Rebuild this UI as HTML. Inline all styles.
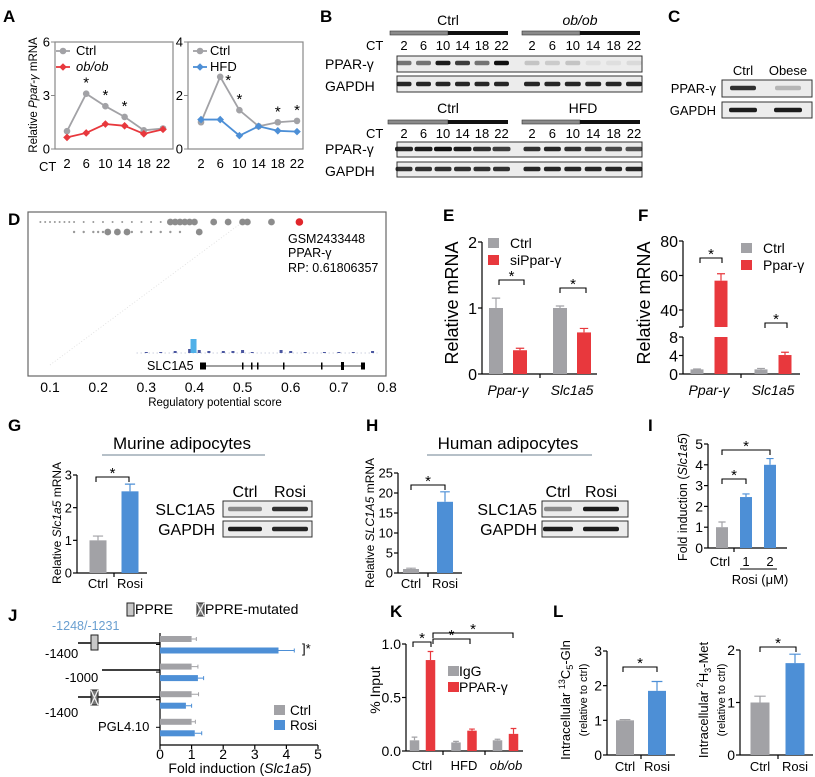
<!DOCTYPE html>
<html><head><meta charset="utf-8"><style>
html,body{margin:0;padding:0;background:#fff}
svg{display:block;font-family:"Liberation Sans",Arial,sans-serif}
.n{font-family:"Liberation Sans Narrow","Liberation Sans",sans-serif}
.L{font-weight:bold;font-size:17px}
</style></head><body>
<svg id="fig" width="815" height="777" viewBox="0 0 815 777" xmlns="http://www.w3.org/2000/svg">
<g>
<text class="L" x="3" y="22">A</text><text class="L" x="320" y="22">B</text><text class="L" x="668" y="22">C</text>
<text class="L" x="8" y="225">D</text><text class="L" x="443" y="221">E</text><text class="L" x="638" y="221">F</text>
<text class="L" x="8" y="431">G</text><text class="L" x="366" y="431">H</text><text class="L" x="648" y="431">I</text>
<text class="L" x="8" y="621">J</text><text class="L" x="390" y="617">K</text><text class="L" x="553" y="617">L</text>
</g>
<g font-size="13">
<text transform="translate(37,95) rotate(-90)" text-anchor="middle" font-size="11.5">Relative <tspan font-style="italic">Ppar-γ</tspan> mRNA</text>
<text x="39" y="171" font-size="13">CT</text>
<text x="76" y="55">Ctrl</text><text x="76" y="71" font-style="italic">ob/ob</text>
<text x="210" y="55">Ctrl</text><text x="210" y="71">HFD</text>
</g>
<g font-size="13">
<text x="448" y="25" text-anchor="middle" font-size="14">Ctrl</text>
<text x="580" y="25" text-anchor="middle" font-size="14" font-style="italic">ob/ob</text>
<text x="448" y="113" text-anchor="middle" font-size="14">Ctrl</text>
<text x="583" y="113" text-anchor="middle" font-size="14">HFD</text>
<text x="366" y="50">CT</text><text x="366" y="138">CT</text>
<text x="325" y="69" font-size="14">PPAR-γ</text><text x="325" y="91" font-size="14">GAPDH</text>
<text x="325" y="154" font-size="14">PPAR-γ</text><text x="325" y="176" font-size="14">GAPDH</text>
</g>
<g font-size="13">
<text x="743" y="75" text-anchor="middle">Ctrl</text><text x="788" y="75" text-anchor="middle">Obese</text>
<text x="716" y="93" text-anchor="end">PPAR-γ</text><text x="716" y="115" text-anchor="end">GAPDH</text>
</g>
<g font-size="12.5" class="n">
<text x="288" y="243">GSM2433448</text><text x="288" y="257">PPAR-γ</text><text x="288" y="272">RP: 0.61806357</text>
<text x="147" y="370">SLC1A5</text>
<text x="215" y="406" text-anchor="middle" font-size="11.5">Regulatory potential score</text>
</g>
<g>
<text transform="translate(458,303) rotate(-90)" text-anchor="middle" font-size="18">Relative mRNA</text>
<text transform="translate(650,303) rotate(-90)" text-anchor="middle" font-size="18">Relative mRNA</text>
<text x="510" y="248" font-size="14">Ctrl</text><text x="510" y="265" font-size="14">siPpar-γ</text>
<text x="763" y="253" font-size="14">Ctrl</text><text x="763" y="270" font-size="14">Ppar-γ</text>
<g font-style="italic" font-size="14" text-anchor="middle"><text x="508" y="395">Ppar-γ</text><text x="572" y="395">Slc1a5</text><text x="709" y="395">Ppar-γ</text><text x="773" y="395">Slc1a5</text></g>
</g>
<g class="n">
<text x="182" y="449" text-anchor="middle" font-size="17">Murine adipocytes</text>
<line x1="102" y1="455" x2="265" y2="455" stroke="#8a9aa8" stroke-width="1.3"/>
<text x="508" y="449" text-anchor="middle" font-size="17">Human  adipocytes</text>
<line x1="427" y1="455" x2="592" y2="455" stroke="#8a9aa8" stroke-width="1.3"/>
<text transform="translate(61,523) rotate(-90)" text-anchor="middle" font-size="12">Relative <tspan font-style="italic">Slc1a5</tspan> mRNA</text>
<text transform="translate(374,523) rotate(-90)" text-anchor="middle" font-size="12">Relative <tspan font-style="italic">SLC1A5</tspan> mRNA</text>
<text transform="translate(687,497) rotate(-90)" text-anchor="middle" font-size="12.5">Fold induction (<tspan font-style="italic">Slc1a5</tspan>)</text>
<g font-size="13" text-anchor="middle"><text x="98" y="588">Ctrl</text><text x="130" y="588">Rosi</text><text x="411" y="588">Ctrl</text><text x="445" y="588">Rosi</text>
<text x="720" y="566">Ctrl</text><text x="746" y="566">1</text><text x="770" y="566">2</text><text x="760" y="584">Rosi (μM)</text></g>
<line x1="740" y1="569" x2="777" y2="569" stroke="#000" stroke-width="1"/>
<g font-size="16"><text x="245" y="497" text-anchor="middle">Ctrl</text><text x="290" y="497" text-anchor="middle">Rosi</text>
<text x="215" y="515" text-anchor="end">SLC1A5</text><text x="215" y="535" text-anchor="end">GAPDH</text>
<text x="558" y="497" text-anchor="middle">Ctrl</text><text x="601" y="497" text-anchor="middle">Rosi</text>
<text x="537" y="515" text-anchor="end">SLC1A5</text><text x="537" y="535" text-anchor="end">GAPDH</text></g>
</g>
<g class="n">
<text x="135" y="614" font-size="14">PPRE</text><text x="205" y="614" font-size="14">PPRE-mutated</text>
<text x="52" y="630" font-size="12.5" fill="#6a9fd0">-1248/-1231</text>
<g font-size="13"><text x="45" y="658">-1400</text><text x="65" y="682">-1000</text><text x="45" y="717">-1400</text><text x="98" y="731">PGL4.10</text></g>
<text x="302" y="653" font-size="13">]*</text>
<text x="290" y="715" font-size="13.5">Ctrl</text><text x="290" y="730" font-size="13.5">Rosi</text>
<text x="240" y="773" text-anchor="middle" font-size="14">Fold induction (<tspan font-style="italic">Slc1a5</tspan>)</text>
<text transform="translate(380,690) rotate(-90)" text-anchor="middle" font-size="14">% Input</text>
<text x="459" y="676" font-size="14">IgG</text><text x="459" y="692" font-size="14">PPAR-γ</text>
<g font-size="13" text-anchor="middle"><text x="422" y="770">Ctrl</text><text x="464" y="770">HFD</text><text x="506" y="770" font-style="italic">ob/ob</text>
<text x="625" y="771">Ctrl</text><text x="657" y="771">Rosi</text><text x="760" y="771">Ctrl</text><text x="795" y="771">Rosi</text></g>
<text transform="translate(570,700) rotate(-90)" text-anchor="middle" font-size="13">Intracellular <tspan font-size="9" dy="-5">13</tspan><tspan dy="5">C</tspan><tspan font-size="9" dy="3">5</tspan><tspan dy="-3">-Gln</tspan></text>
<text transform="translate(587,700) rotate(-90)" text-anchor="middle" font-size="11">(relative to ctrl)</text>
<text transform="translate(708,700) rotate(-90)" text-anchor="middle" font-size="13">Intracellular <tspan font-size="9" dy="-5">2</tspan><tspan dy="5">H</tspan><tspan font-size="9" dy="3">3</tspan><tspan dy="-3">-Met</tspan></text>
<text transform="translate(725,700) rotate(-90)" text-anchor="middle" font-size="11">(relative to ctrl)</text>
</g>
<g id="marks"></g>
</svg>
<script>
const aCT=['2','6','10','14','18','22'];
const aCtrl1=[1.0,3.1,2.4,1.8,1.05,1.15];
const aOb=[0.65,0.9,1.4,1.3,0.85,1.1];
const aCtrl2=[1.0,2.7,1.45,0.85,1.0,1.05];
const aHFD=[1.1,1.1,0.5,0.85,0.68,0.65];
const aTicks1=[0,3,6];
const aTicks2=[0,2,4];
const bCT=['2','6','10','14','18','22'];
const bCtrlPpar=[0.55,0.55,0.95,0.8,0.55,1.0];
const bObPpar=[0.18,0.15,0.18,0.06,0.06,0.08];
const bCtrl2Ppar=[0.9,0.95,1.0,0.95,0.85,0.8];
const bHfdPpar=[0.85,0.9,0.85,0.8,0.75,0.7];
const dRow1Small=[0.08,0.09,0.10,0.11,0.12,0.13,0.14,0.15,0.17,0.19,0.21,0.23,0.25,0.27,0.29,0.31,0.33];
const dRow1Big=[0.35,0.36,0.37,0.38,0.39,0.40,0.44,0.47,0.50,0.51,0.56];
const dRow2Small=[0.15,0.17,0.19,0.2,0.21,0.27,0.29,0.31,0.33,0.35,0.37];
const dRow2Big=[0.22,0.24,0.26,0.41];
const dRed=[0.618];
const dTicks=[0.1,0.2,0.3,0.4,0.5,0.6,0.7,0.8];
const dPeaks=[0.30,0.33,0.36,0.39,0.395,0.41,0.43,0.46,0.48,0.5,0.52,0.58,0.6,0.63,0.67,0.7,0.73,0.77];
const dPeakH=[1,1,2,4,14,3,2,2,2,3,1,3,2,1,1,1,1,2];
const eCtrl=[1.0,1.0], eCtrlErr=[0.15,0.03];
const eSi=[0.36,0.63], eSiErr=[0.03,0.06];
const eTicks=[0,1,2];
const fCtrl=[1,1], fCtrlErr=[0.1,0.2];
const fP=[57,4.1], fPErr=[4,0.6];
const fTicksLow=[0,4,8], fTicksHigh=[40,60,80];
const gVals=[1.0,2.5], gErr=[0.13,0.22], gTicks=[0,1,2,3];
const hVals=[1.0,17.8], hErr=[0.2,2.5], hTicks=[0,5,10,15,20,25];
const iVals=[1.0,2.45,4.0], iErr=[0.25,0.15,0.3], iTicks=[0,1,2,3,4,5];
const jCtrl=[1,1,1,1], jCtrlErr=[0.15,0.2,0.22,0.12];
const jRosi=[3.75,1.2,0.82,1.1], jRosiErr=[0.5,0.18,0.18,0.22];
const jTicks=[0,1,2,3,4,5];
const kIgG=[0.1,0.08,0.1], kIgGErr=[0.03,0.01,0.01];
const kP=[0.85,0.19,0.16], kPErr=[0.08,0.015,0.05];
const kTicks=[0,0.5,1.0], kTickLabels=['0.0','0.5','1.0'];
const l1=[1.0,1.85], l1Err=[0.02,0.27], l1Ticks=[0,1,2,3];
const l2=[1.0,1.75], l2Err=[0.12,0.17], l2Ticks=[0,1,2];

const GRAY='#a2a2a6', RED='#e8383d', BLUE='#4d8fd6';
const NS='http://www.w3.org/2000/svg';
const root=document.getElementById('marks');
function mk(tag,a,p){const e=document.createElementNS(NS,tag);for(const k in a)e.setAttribute(k,a[k]);(p||root).appendChild(e);return e;}
function lin(d0,d1,r0,r1){return v=>r0+(v-d0)*(r1-r0)/(d1-d0);}
function txt(x,y,s,a,p){const e=mk('text',Object.assign({x:x,y:y},a||{}),p);e.textContent=s;return e;}

function yAxis(x,sc,ticks,labels,name,fs){
  const g=mk('g',{});
  
  
  const ln=mk('line',{x1:x,x2:x,y1:sc(ticks[0]),y2:sc(ticks[ticks.length-1]),stroke:'#000','stroke-width':1.2},g);
  
  
  ticks.forEach((t,i)=>{
    const tk=mk('line',{x1:x-4,x2:x,y1:sc(t),y2:sc(t),stroke:'#000','stroke-width':1.2},g);
    
    
    const tl=txt(x-5,sc(t)+fs*0.36,labels?labels[i]:String(t),{'text-anchor':'end','font-size':fs},g);
    
    
  });
  return g;
}
function xAxis(x0,x1,y,ticks,name){
  const ln=mk('line',{x1:x0,x2:x1,y1:y,y2:y,stroke:'#000','stroke-width':1.2});
  
  
  ticks.forEach(t=>{
    const tk=mk('line',{x1:t,x2:t,y1:y,y2:y+4,stroke:'#000','stroke-width':1.2});
    
    
  });
}
function vbar(cx,w,v,err,sc,color,name){
  const r=mk('rect',{x:cx-w/2,y:sc(v),width:w,height:sc(0)-sc(v),fill:color});
  
  
  const e=mk('path',{d:`M${cx} ${sc(v)}V${sc(v+err)}M${cx-w*0.3} ${sc(v+err)}H${cx+w*0.3}`,stroke:color,'stroke-width':1.2,fill:'none'});
  
  
}
function bracket(x1,x2,y,name){
  const p=mk('path',{d:`M${x1} ${y+5}V${y}H${x2}V${y+5}`,stroke:'#000','stroke-width':1.1,fill:'none'});
  
  
  const s=txt((x1+x2)/2,y+1,'*',{'text-anchor':'middle','font-size':15});
  
  
}
function legendSq(x,y,color,name){
  const r=mk('rect',{x:x,y:y-5,width:11,height:10,fill:color});
  
  
}

function panelA(bx0,bx1,px0,ymax,ticks,c,o,oc,oname,stars){
  const sc=lin(0,ymax,149,42);
  const f=mk('rect',{x:bx0,y:42,width:bx1-bx0,height:107,fill:'none',stroke:'#888','stroke-width':1.2});
  
  
  ticks.forEach(t=>{
    const tk=mk('line',{x1:bx0-4,x2:bx0,y1:sc(t),y2:sc(t),stroke:'#888'});
    
    
    const tl=txt(bx0-5,sc(t)+4.5,String(t),{'text-anchor':'end','font-size':13});
    
    
  });
  const xs=aCT.map((_,i)=>px0+i*19.2);
  xs.forEach((x,i)=>{
    const tl=txt(x,168,aCT[i],{'text-anchor':'middle','font-size':13});
    
    
  });
  [[c,GRAY,'ctrl'],[o,oc,oname]].forEach(([vals,col,nm])=>{
    const pl=mk('polyline',{points:vals.map((v,i)=>xs[i]+','+sc(v)).join(' '),fill:'none',stroke:col,'stroke-width':1.8});
    
    
    vals.forEach((v,i)=>{
      let m;
      if(nm==='ctrl') m=mk('circle',{cx:xs[i],cy:sc(v),r:3.3,fill:col});
      else m=mk('path',{d:`M${xs[i]} ${sc(v)-3.8}l3.8 3.8l-3.8 3.8l-3.8 -3.8z`,fill:col});
      
      
    });
  });
  stars.forEach(i=>{
    const special=(ymax===4&&i===1);
    const s=txt(xs[i]+(special?8:0),sc(Math.max(c[i],o[i]))+(special?8:-6),'*',{'text-anchor':'middle','font-size':15});
    
    
  });
}
panelA(55,173,67,6,aTicks1,aCtrl1,aOb,RED,'obob',[1,2,3]);
panelA(188,303,201,4,aTicks2,aCtrl2,aHFD,BLUE,'hfd',[1,2,4,5]);
[[63,51,'c',GRAY],[63,67,'d',RED],[200,51,'c',GRAY],[200,67,'d',BLUE]].forEach(([x,y,t,col])=>{
  const l=mk('line',{x1:x-7,x2:x+7,y1:y,y2:y,stroke:col,'stroke-width':1.8});
  
  
  const m=t==='c'?mk('circle',{cx:x,cy:y,r:3.3,fill:col}):mk('path',{d:`M${x} ${y-3.8}l3.8 3.8l-3.8 3.8l-3.8 -3.8z`,fill:col});
  
  
});

function timeBar(x0,xm,x1,y){
  const g=mk('rect',{x:x0,y:y,width:xm-x0,height:4,fill:'#8a8a8a',stroke:'#333','stroke-width':0.6});
  
  
  const b=mk('rect',{x:xm,y:y,width:x1-xm,height:4,fill:'#111'});
  
  
}
function blotBox(x,y,w,h,name){
  const r=mk('rect',{x:x,y:y,width:w,height:h,fill:'#ececec',stroke:'#333','stroke-width':1});
  
  
}
function band(cx,cy,w,op,name){
  const e=mk('rect',{x:cx-w/2,y:cy-2.2,width:w,height:4.4,rx:2,fill:'#111','fill-opacity':op});
  
  
}
const bLanesL=bCT.map((_,i)=>404+i*19.5);
const bLanesR=bCT.map((_,i)=>532+i*20.4);
timeBar(390,448,508,31); timeBar(522,580,640,31);
timeBar(388,448,508,120); timeBar(522,580,640,120);
[[50,'top'],[138,'bottom']].forEach(([y,nm])=>{
  bLanesL.concat(bLanesR).forEach((x,i)=>{
    const t=txt(x,y,bCT[i%6],{'text-anchor':'middle','font-size':13});
    
    
  });
});
blotBox(397,56,245,16,'blot-b-ppar-top'); blotBox(397,76,245,16,'blot-b-gapdh-top');
blotBox(397,142,245,15,'blot-b-ppar-bottom'); blotBox(397,162,245,15,'blot-b-gapdh-bottom');
bLanesL.forEach((x,i)=>{band(x,63,15,bCtrlPpar[i],'band-ppar-ctrl');band(x,84,15,0.9,'band-gapdh-ctrl');band(x,149,18,bCtrl2Ppar[i],'band-ppar-ctrl2');band(x,169,17,0.85,'band-gapdh-ctrl2');});
bLanesR.forEach((x,i)=>{band(x,63,15,bObPpar[i],'band-ppar-obob');band(x,84,16,0.9,'band-gapdh-obob');band(x,149,17,bHfdPpar[i],'band-ppar-hfd');band(x,169,17,0.9,'band-gapdh-hfd');});
blotBox(722,80,90,17,'blot-c-ppar'); blotBox(722,102,90,16,'blot-c-gapdh');
band(743,88,26,0.85,'band-c-ppar-ctrl'); band(788,88,26,0.25,'band-c-ppar-obese');
band(743,110,28,0.95,'band-c-gapdh-ctrl'); band(788,110,28,0.95,'band-c-gapdh-obese');
blotBox(223,501,89,16,'blot-g-slc1a5'); blotBox(223,521,89,16,'blot-g-gapdh');
band(245,509,34,0.45,'band-g-slc-ctrl'); band(290,509,36,0.85,'band-g-slc-rosi');
band(245,529,34,0.95,'band-g-gapdh-ctrl'); band(290,529,36,0.9,'band-g-gapdh-rosi');
blotBox(542,501,86,16,'blot-h-slc1a5'); blotBox(542,521,86,16,'blot-h-gapdh');
band(558,509,28,0.45,'band-h-slc-ctrl'); band(601,509,36,0.95,'band-h-slc-rosi');
band(558,529,30,0.95,'band-h-gapdh-ctrl'); band(601,529,36,0.95,'band-h-gapdh-rosi');

(function(){
  const sx=lin(0.1,0.8,50,387);
  const f=mk('rect',{x:28,y:212,width:358,height:164,fill:'none',stroke:'#666','stroke-width':1.2});
  
  
  dTicks.forEach(t=>{
    const tl=txt(sx(t),392,t.toFixed(1),{'text-anchor':'middle','font-size':14});
    
    
  });
  const dl=mk('line',{x1:sx(0.1),y1:365,x2:sx(0.5),y2:222,stroke:'#ddd','stroke-width':0.8,'stroke-dasharray':'1 2'});
  
  
  dRow1Small.forEach(v=>{const c=mk('circle',{cx:sx(v),cy:222,r:1,fill:'#999'});});
  dRow2Small.forEach(v=>{const c=mk('circle',{cx:sx(v),cy:232,r:1.2,fill:'#999'});});
  dRow1Big.forEach(v=>{const c=mk('circle',{cx:sx(v),cy:222,r:3.4,fill:'#8c8c8c'});});
  dRow2Big.forEach(v=>{const c=mk('circle',{cx:sx(v),cy:232,r:3.4,fill:'#8c8c8c'});});
  dRed.forEach(v=>{const c=mk('circle',{cx:sx(v),cy:222,r:3.8,fill:'#e0262b'});});
  const base=mk('line',{x1:sx(0.28),x2:sx(0.78),y1:353,y2:353,stroke:'#9aa3c0','stroke-width':0.7,'stroke-dasharray':'1 3'});
  
  
  dPeaks.forEach((v,i)=>{
    const r=mk('rect',{x:sx(v)-1.5,y:353-dPeakH[i],width:dPeakH[i]>5?6:3,height:dPeakH[i],fill:dPeakH[i]>5?'#4fb0e8':'#4a56a0'});
    
    
  });
  const gl=mk('line',{x1:200,x2:365,y1:366,y2:366,stroke:'#000','stroke-width':0.8});
  
  
  [[200,6,7],[242,1.5,7],[251,1.5,7],[257,1.5,7],[283,1.5,7],[321,1.5,7],[341,3,8],[361,4,7]].forEach(([x,w,h])=>{
    const e=mk('rect',{x:x,y:366-h/2,width:w,height:h,fill:'#000'});
    
    
  });
})();

(function(){
  const sc=lin(0,2,374,242);
  yAxis(482,sc,eTicks,null,'panel-e-y-axis',16);
  xAxis(482,597,374,[540],'panel-e-x-axis');
  eCtrl.forEach((v,i)=>{const cx=508+i*64;vbar(cx-12,14,v,eCtrlErr[i],sc,GRAY,'panel-e-bar-ctrl');vbar(cx+12,14,eSi[i],eSiErr[i],sc,RED,'panel-e-bar-sippar');});
  bracket(499,524,280,'panel-e-sig-ppar'); bracket(560,586,288,'panel-e-sig-slc');
  legendSq(488,243,GRAY,'panel-e-legend-ctrl'); legendSq(488,260,RED,'panel-e-legend-sippar');
})();

(function(){
  const lo=lin(0,8,374,337), hi=lin(40,80,310,241);
  yAxis(683,lo,fTicksLow,null,'panel-f-y-axis-low',16);
  yAxis(683,hi,fTicksHigh,null,'panel-f-y-axis-high',16);
  const ext=mk('line',{x1:683,x2:683,y1:310,y2:327,stroke:'#000','stroke-width':1.2});
  
  
  const brk=mk('line',{x1:679,x2:683,y1:327,y2:327,stroke:'#000','stroke-width':1.2});
  
  
  xAxis(683,800,374,[741],'panel-f-x-axis');
  fCtrl.forEach((v,i)=>{
    const cx=709+i*64;
    vbar(cx-12,13,v,fCtrlErr[i],lo,GRAY,'panel-f-bar-ctrl');
    const pv=fP[i];
    if(pv<=8){vbar(cx+12,13,pv,fPErr[i],lo,RED,'panel-f-bar-ppar');}
    else{
      const r1=mk('rect',{x:cx+12-6.5,y:lo(8),width:13,height:lo(0)-lo(8),fill:RED});
      
      
      const r2=mk('rect',{x:cx+12-6.5,y:hi(pv),width:13,height:327-hi(pv),fill:RED});
      
      
      const e=mk('path',{d:`M${cx+12} ${hi(pv)}V${hi(pv+fPErr[i])}M${cx+8} ${hi(pv+fPErr[i])}H${cx+16}`,stroke:RED,'stroke-width':1.2});
      
      
    }
  });
  bracket(700,722,258,'panel-f-sig-ppar'); bracket(765,787,323,'panel-f-sig-slc');
  legendSq(741,248,GRAY,'panel-f-legend-ctrl'); legendSq(741,265,RED,'panel-f-legend-ppar');
})();

(function(){
  let sc=lin(0,3,573,475);
  yAxis(77,sc,gTicks,null,'panel-g-y-axis',13);
  xAxis(77,147,573,[114],'panel-g-x-axis');
  gVals.forEach((v,i)=>vbar(98+i*32,17,v,gErr[i],sc,i?BLUE:GRAY,'panel-g-bar'));
  bracket(96,129,477,'panel-g-sig');
  sc=lin(0,25,573,473);
  yAxis(398,sc,hTicks,null,'panel-h-y-axis',13);
  xAxis(398,462,573,[428],'panel-h-x-axis');
  hVals.forEach((v,i)=>vbar(411+i*34,16,v,hErr[i],sc,i?BLUE:GRAY,'panel-h-bar'));
  bracket(411,445,485,'panel-h-sig');
  sc=lin(0,5,548,444);
  yAxis(708,sc,iTicks,null,'panel-i-y-axis',14);
  xAxis(708,787,548,[734],'panel-i-x-axis');
  iVals.forEach((v,i)=>vbar(722+i*24,12,v,iErr[i],sc,i?BLUE:GRAY,'panel-i-bar'));
  bracket(722,746,479,'panel-i-sig-1'); bracket(722,770,450,'panel-i-sig-2');
})();

(function(){
  const sx=lin(0,5,160,318);
  const ax=mk('line',{x1:160,x2:160,y1:633,y2:745,stroke:'#000','stroke-width':1.2});
  
  
  xAxis(160,318,745,jTicks.map(sx),'panel-j-x-axis');
  jTicks.forEach(t=>{const tl=txt(sx(t),759,String(t),{'text-anchor':'middle','font-size':14});});
  jCtrl.forEach((v,i)=>{
    const y=639+i*27.6;
    [[v,jCtrlErr[i],GRAY,y,'panel-j-bar-ctrl'],[jRosi[i],jRosiErr[i],BLUE,y+11.5,'panel-j-bar-rosi']].forEach(([val,er,col,cy,nm])=>{
      const r=mk('rect',{x:160,y:cy-3,width:sx(val)-160,height:6,fill:col});
      
      
      const e=mk('path',{d:`M${sx(val)} ${cy}H${sx(val+er)}M${sx(val+er)} ${cy-2}V${cy+2}`,stroke:col,'stroke-width':1});
      
      
    });
    const tk=mk('line',{x1:156,x2:160,y1:y+5.5,y2:y+5.5,stroke:'#000'});
    
    
  });
  [[78,643],[102,670],[78,697]].forEach(([x0,y])=>{
    const l=mk('line',{x1:x0,x2:160,y1:y,y2:y,stroke:'#000','stroke-width':1.6});
    
    
  });
  [[91,635,false],[91,690,true],[127,603,false],[197,603,true]].forEach(([x,y,mut])=>{
    const h=y>650||y===635?15:13;
    const r=mk('rect',{x:x,y:y,width:7,height:h,fill:mut?'#777':'#c8c8c8',stroke:'#222','stroke-width':1});
    
    
    if(mut){const c=mk('path',{d:`M${x} ${y}L${x+7} ${y+h}M${x+7} ${y}L${x} ${y+h}`,stroke:'#eee','stroke-width':1.3});}
  });
  legendSq(274,710,GRAY,'panel-j-legend-ctrl'); legendSq(274,725,BLUE,'panel-j-legend-rosi');
})();

(function(){
  const sc=lin(0,1,751,644);
  yAxis(406,sc,kTicks,kTickLabels,'panel-k-y-axis',14);
  xAxis(406,523,751,[443,485],'panel-k-x-axis');
  kIgG.forEach((v,i)=>{const cx=422.5+i*41.5;vbar(cx-8,9.5,v,kIgGErr[i],sc,GRAY,'panel-k-bar-igg');vbar(cx+8,9.5,kP[i],kPErr[i],sc,RED,'panel-k-bar-ppar');});
  bracket(413,431,642,'panel-k-sig-ctrl'); bracket(433,470,639,'panel-k-sig-hfd'); bracket(433,513,633,'panel-k-sig-obob');
  legendSq(448,671,GRAY,'panel-k-legend-igg'); legendSq(448,687,RED,'panel-k-legend-ppar');
})();

(function(){
  let sc=lin(0,3,755,651);
  yAxis(607,sc,l1Ticks,null,'panel-l1-y-axis',14);
  xAxis(607,675,755,[641],'panel-l1-x-axis');
  l1.forEach((v,i)=>vbar(625+i*32,18,v,l1Err[i],sc,i?BLUE:GRAY,'panel-l1-bar'));
  bracket(623,657,667,'panel-l1-sig');
  sc=lin(0,2,755,650);
  yAxis(740,sc,l2Ticks,null,'panel-l2-y-axis',14);
  xAxis(740,813,755,[778],'panel-l2-x-axis');
  l2.forEach((v,i)=>vbar(760+i*35,19,v,l2Err[i],sc,i?BLUE:GRAY,'panel-l2-bar'));
  bracket(760,796,647,'panel-l2-sig');
})();
</script>
</body></html>
